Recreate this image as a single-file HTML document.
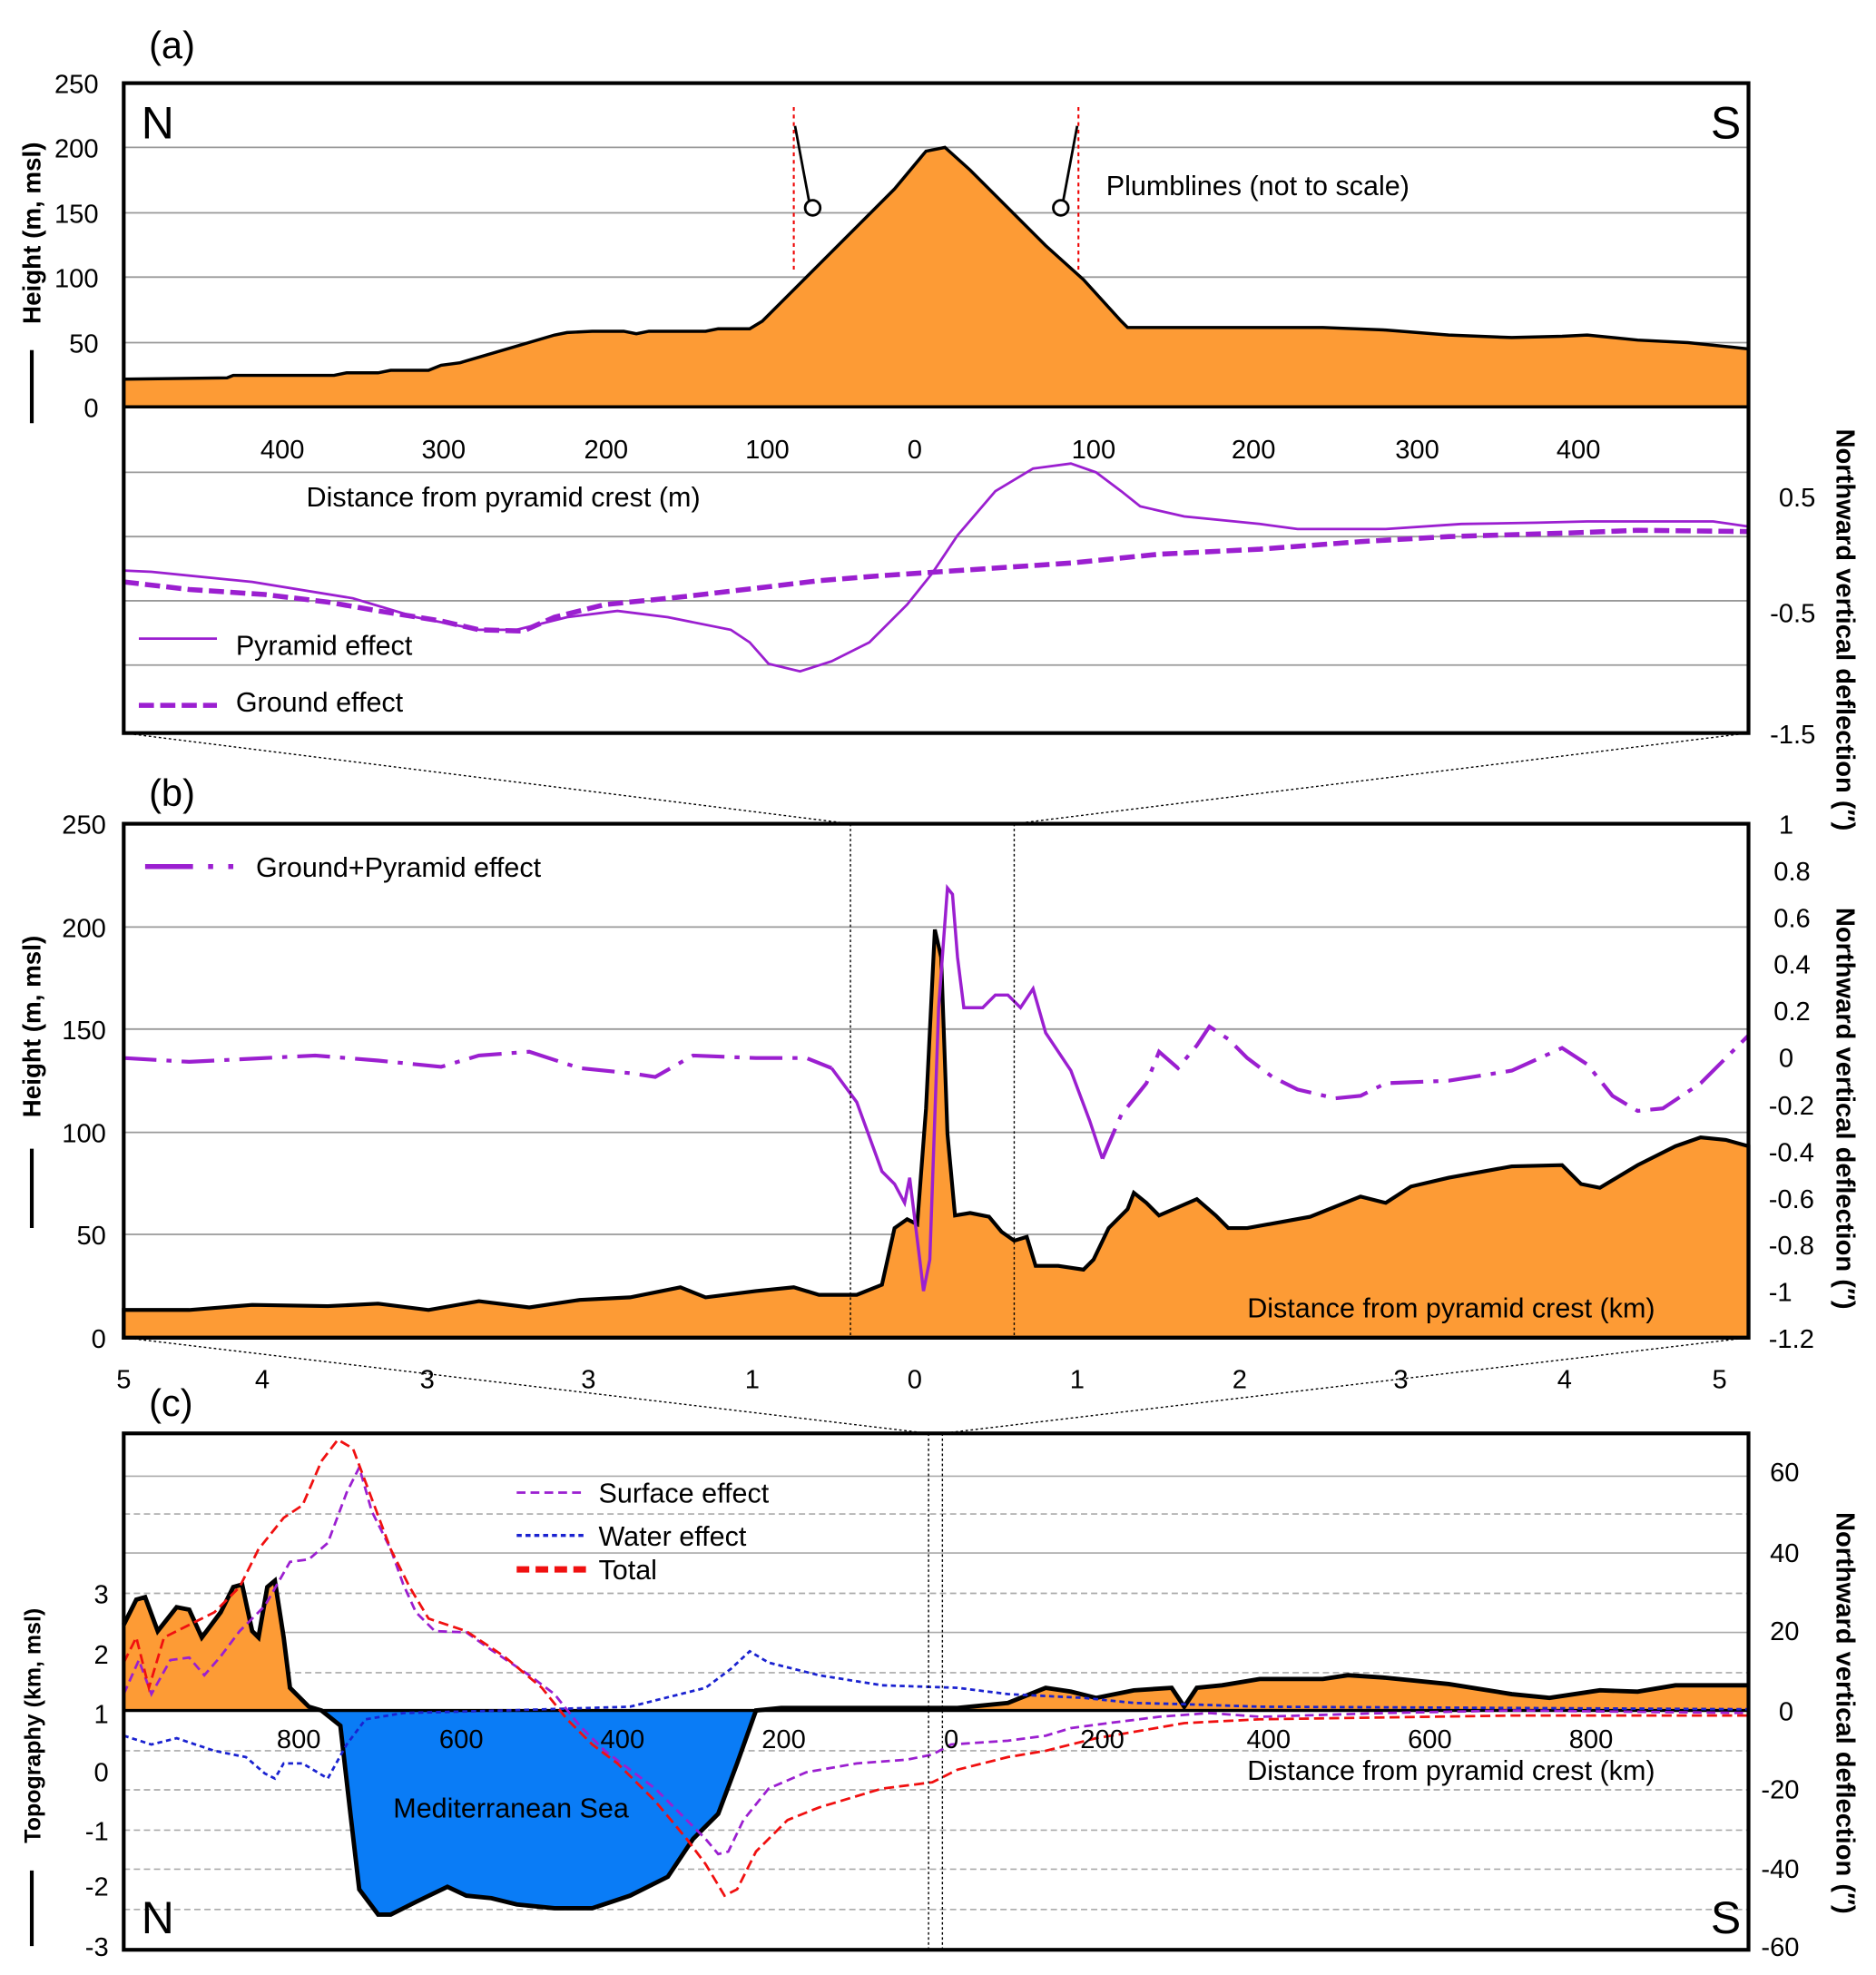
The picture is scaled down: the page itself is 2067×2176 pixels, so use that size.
<!DOCTYPE html>
<html><head><meta charset="utf-8"><style>
html,body{margin:0;padding:0;background:#fff}
svg{display:block}
text{font-family:"Liberation Sans",sans-serif;fill:#000}
</style></head><body>
<svg width="2067" height="2176" viewBox="0 0 1489 1568" xmlns="http://www.w3.org/2000/svg">
<rect width="1489" height="1568" fill="#fff"/>
<!-- ===== Panel A ===== -->
<g stroke="#999" stroke-width="1.3">
<line x1="98" x2="1388" y1="117" y2="117"/><line x1="98" x2="1388" y1="169" y2="169"/><line x1="98" x2="1388" y1="220" y2="220"/><line x1="98" x2="1388" y1="272" y2="272"/>
<line x1="98" x2="1388" y1="375" y2="375"/><line x1="98" x2="1388" y1="426" y2="426"/><line x1="98" x2="1388" y1="477" y2="477"/><line x1="98" x2="1388" y1="528" y2="528"/>
</g>
<polygon fill="#fd9b35" stroke="#000" stroke-width="2.5" points="98,301 180,300 185,298 265,298 275,296 300,296 310,294 340,294 350,290 365,288 440,266 450,264 470,263 495,263 505,265 515,263 560,263 570,261 595,261 605,255 620,240 650,210 680,180 710,150 735,120 750,117 770,135 800,165 830,195 860,222 890,255 895,260 1050,260 1100,262 1150,266 1200,268 1240,267 1260,266 1300,270 1340,272 1388,277 1388,323 98,323"/>
<line x1="98" x2="1388" y1="323" y2="323" stroke="#000" stroke-width="2"/>
<polyline fill="none" stroke="#9b1fd0" stroke-width="2" points="98,453 120,454 200,462 280,475 330,490 380,500 410,500 450,490 490,485 530,490 580,500 595,510 610,527 635,533 660,525 690,510 720,480 740,455 760,425 790,390 820,372 850,368 870,375 890,390 905,402 940,410 1000,416 1030,420 1100,420 1160,416 1220,415 1260,414 1300,414 1360,414 1388,418"/>
<polyline fill="none" stroke="#9b1fd0" stroke-width="4" stroke-dasharray="12 5" points="98,462 150,468 210,472 260,478 300,485 350,493 380,500 415,501 440,490 480,480 540,474 600,467 650,461 700,457 760,453 850,447 920,440 1000,436 1080,430 1150,426 1250,423 1300,421 1388,422"/>
<g stroke="#e00" stroke-width="1.5" stroke-dasharray="3 3"><line x1="630" x2="630" y1="85" y2="215"/><line x1="856" x2="856" y1="85" y2="215"/></g>
<g stroke="#000" stroke-width="2" fill="#fff"><line x1="631" y1="100" x2="642" y2="159"/><circle cx="645" cy="165" r="6"/><line x1="855" y1="100" x2="844" y2="159"/><circle cx="842" cy="165" r="6"/></g>
<rect x="98" y="66" width="1290" height="516" fill="none" stroke="#000" stroke-width="3"/>
<text x="112" y="110" font-size="36">N</text><text x="1358" y="110" font-size="36">S</text>
<text x="118" y="46" font-size="30">(a)</text>
<text x="878" y="155" font-size="22">Plumblines (not to scale)</text>
<text x="243" y="402" font-size="22">Distance from pyramid crest (m)</text>
<g font-size="21" text-anchor="middle"><text x="224" y="364">400</text><text x="352" y="364">300</text><text x="481" y="364">200</text><text x="609" y="364">100</text><text x="726" y="364">0</text><text x="868" y="364">100</text><text x="995" y="364">200</text><text x="1125" y="364">300</text><text x="1253" y="364">400</text></g>
<g font-size="21" text-anchor="end"><text x="78" y="74">250</text><text x="78" y="125">200</text><text x="78" y="177">150</text><text x="78" y="228">100</text><text x="78" y="280">50</text><text x="78" y="331">0</text></g>
<g font-size="21"><text x="1412" y="402">0.5</text><text x="1405" y="494">-0.5</text><text x="1405" y="590">-1.5</text></g>
<line x1="110" x2="172" y1="507" y2="507" stroke="#9b1fd0" stroke-width="2"/>
<line x1="110" x2="172" y1="560" y2="560" stroke="#9b1fd0" stroke-width="4" stroke-dasharray="12 5"/>
<text x="187" y="520" font-size="22">Pyramid effect</text><text x="187" y="565" font-size="22">Ground effect</text>
<text transform="translate(32,185) rotate(-90)" font-size="20" font-weight="bold" text-anchor="middle">Height (m, msl)</text>
<line x1="25" x2="25" y1="278" y2="336" stroke="#000" stroke-width="3"/>
<text transform="translate(1458,500) rotate(90)" font-size="21" font-weight="bold" text-anchor="middle">Northward vertical deflection  (″)</text>
<!-- connectors -->
<g stroke="#000" stroke-width="1" stroke-dasharray="2 2"><line x1="98" y1="582" x2="675" y2="654"/><line x1="1388" y1="582" x2="805" y2="654"/><line x1="98" y1="1062" x2="737" y2="1138"/><line x1="1388" y1="1062" x2="748" y2="1138"/></g>
<!-- ===== Panel B ===== -->
<g stroke="#999" stroke-width="1.3"><line x1="98" x2="1388" y1="736" y2="736"/><line x1="98" x2="1388" y1="817" y2="817"/><line x1="98" x2="1388" y1="899" y2="899"/><line x1="98" x2="1388" y1="980" y2="980"/></g>
<polygon fill="#fd9b35" stroke="#000" stroke-width="3" points="98,1040 150,1040 200,1036 260,1037 300,1035 340,1040 380,1033 420,1038 460,1032 500,1030 540,1022 560,1030 600,1025 630,1022 650,1028 680,1028 700,1020 710,975 720,968 728,972 735,880 742,738 747,760 752,900 758,965 770,963 785,966 795,978 805,985 815,982 822,1005 840,1005 860,1008 868,1000 880,975 895,960 900,947 910,955 920,965 950,952 965,965 975,975 990,975 1040,966 1080,950 1100,955 1120,942 1150,935 1200,926 1240,925 1255,940 1270,943 1300,925 1330,910 1350,903 1370,905 1388,910 1388,1062 98,1062"/>
<polyline fill="none" stroke="#9b1fd0" stroke-width="3" stroke-dasharray="26 8 4 8" points="98,840 150,843 250,838 300,842 350,847 380,838 420,835 460,848 500,852 520,855 550,838 600,840 640,840 660,848"/>
<polyline fill="none" stroke="#9b1fd0" stroke-width="2.5" points="660,848 680,875 700,930 710,940 718,955 722,935 730,1000 733,1025 738,1000 745,800 752,705 756,710 760,760 765,800 780,800 790,790 800,790 810,800 820,785 830,820 850,850 865,890 875,920"/>
<polyline fill="none" stroke="#9b1fd0" stroke-width="3" stroke-dasharray="26 8 4 8" points="875,920 890,885 910,860 920,835 935,848 950,830 960,815 975,825 990,840 1010,855 1030,865 1060,872 1080,870 1100,860 1150,858 1200,850 1240,832 1260,845 1280,870 1300,882 1320,880 1350,860 1388,822"/>
<g stroke="#000" stroke-width="1" stroke-dasharray="2 2"><line x1="675" x2="675" y1="654" y2="1062"/><line x1="805" x2="805" y1="654" y2="1062"/></g>
<rect x="98" y="654" width="1290" height="408" fill="none" stroke="#000" stroke-width="3"/>
<text x="118" y="640" font-size="30">(b)</text>
<line x1="115" x2="185" y1="688" y2="688" stroke="#9b1fd0" stroke-width="4" stroke-dasharray="38 12 4 12"/>
<text x="203" y="696" font-size="22">Ground+Pyramid effect</text>
<text x="990" y="1046" font-size="22">Distance from pyramid crest (km)</text>
<g font-size="21" text-anchor="end"><text x="84" y="662">250</text><text x="84" y="744">200</text><text x="84" y="825">150</text><text x="84" y="907">100</text><text x="84" y="988">50</text><text x="84" y="1070">0</text></g>
<g font-size="21"><text x="1412" y="662">1</text><text x="1408" y="699">0.8</text><text x="1408" y="736">0.6</text><text x="1408" y="773">0.4</text><text x="1408" y="810">0.2</text><text x="1412" y="847">0</text><text x="1404" y="885">-0.2</text><text x="1404" y="922">-0.4</text><text x="1404" y="959">-0.6</text><text x="1404" y="996">-0.8</text><text x="1404" y="1033">-1</text><text x="1404" y="1070">-1.2</text></g>
<g font-size="21" text-anchor="middle"><text x="98" y="1102">5</text><text x="208" y="1102">4</text><text x="339" y="1102">3</text><text x="467" y="1102">3</text><text x="597" y="1102">1</text><text x="726" y="1102">0</text><text x="855" y="1102">1</text><text x="984" y="1102">2</text><text x="1112" y="1102">3</text><text x="1242" y="1102">4</text><text x="1365" y="1102">5</text></g>
<text transform="translate(32,815) rotate(-90)" font-size="20" font-weight="bold" text-anchor="middle">Height (m, msl)</text>
<line x1="25" x2="25" y1="912" y2="975" stroke="#000" stroke-width="3"/>
<text transform="translate(1458,880) rotate(90)" font-size="21" font-weight="bold" text-anchor="middle">Northward vertical deflection  (″)</text>
<!-- ===== Panel C ===== -->
<g stroke="#aaa" stroke-width="1.2"><line x1="98" x2="1388" y1="1172" y2="1172"/><line x1="98" x2="1388" y1="1233" y2="1233"/><line x1="98" x2="1388" y1="1296" y2="1296"/></g>
<g stroke="#aaa" stroke-width="1.2" stroke-dasharray="5 3"><line x1="98" x2="1388" y1="1202" y2="1202"/><line x1="98" x2="1388" y1="1265" y2="1265"/><line x1="98" x2="1388" y1="1328" y2="1328"/><line x1="98" x2="1388" y1="1390" y2="1390"/><line x1="98" x2="1388" y1="1421" y2="1421"/><line x1="98" x2="1388" y1="1453" y2="1453"/><line x1="98" x2="1388" y1="1484" y2="1484"/><line x1="98" x2="1388" y1="1516" y2="1516"/></g>
<polygon fill="#fd9b35" points="98,1290 108,1270 115,1268 125,1295 140,1276 150,1278 160,1300 175,1280 185,1260 192,1258 200,1295 205,1300 212,1260 218,1255 225,1300 230,1340 245,1355 255,1358 98,1358"/>
<polygon fill="#0a7cf6" points="255,1358 270,1370 278,1440 285,1500 300,1520 310,1520 330,1510 355,1498 370,1505 390,1507 410,1512 440,1515 470,1515 500,1505 530,1490 550,1460 570,1440 585,1400 600,1358"/>
<polygon fill="#fd9b35" points="600,1358 620,1356 700,1356 760,1356 800,1352 830,1340 850,1343 870,1348 900,1342 930,1340 940,1355 950,1340 970,1338 1000,1333 1050,1333 1070,1330 1100,1332 1150,1337 1200,1345 1230,1348 1270,1342 1300,1343 1330,1338 1388,1338 1388,1358"/>
<polyline fill="none" stroke="#000" stroke-width="3.5" points="98,1290 108,1270 115,1268 125,1295 140,1276 150,1278 160,1300 175,1280 185,1260 192,1258 200,1295 205,1300 212,1260 218,1255 225,1300 230,1340 245,1355 255,1358 270,1370 278,1440 285,1500 300,1520 310,1520 330,1510 355,1498 370,1505 390,1507 410,1512 440,1515 470,1515 500,1505 530,1490 550,1460 570,1440 585,1400 600,1358 620,1356 700,1356 760,1356 800,1352 830,1340 850,1343 870,1348 900,1342 930,1340 940,1355 950,1340 970,1338 1000,1333 1050,1333 1070,1330 1100,1332 1150,1337 1200,1345 1230,1348 1270,1342 1300,1343 1330,1338 1388,1338"/>
<line x1="98" x2="1388" y1="1358" y2="1358" stroke="#000" stroke-width="2.5"/>
<polyline fill="none" stroke="#9b1fd0" stroke-width="2" stroke-dasharray="7 4" points="98,1345 110,1318 120,1345 135,1318 150,1316 162,1330 175,1315 190,1295 210,1275 230,1240 245,1238 260,1225 275,1185 285,1165 295,1200 310,1230 320,1258 330,1280 345,1295 370,1296 390,1310 420,1330 440,1345 460,1370 480,1390 500,1405 520,1420 540,1440 560,1460 570,1472 578,1470 590,1445 610,1420 640,1407 680,1400 720,1397 740,1393 755,1385 800,1382 830,1378 850,1372 880,1368 920,1363 960,1360 1000,1363 1100,1360 1200,1358 1388,1360"/>
<polyline fill="none" stroke="#1a22d0" stroke-width="2" stroke-dasharray="4 3" points="98,1378 120,1385 140,1380 170,1390 195,1395 210,1408 218,1412 225,1400 240,1400 260,1412 275,1385 290,1365 320,1360 400,1358 500,1355 540,1345 560,1340 580,1325 595,1311 610,1320 650,1330 700,1338 760,1340 800,1345 860,1348 900,1352 940,1353 1000,1355 1200,1356 1388,1357"/>
<polyline fill="none" stroke="#f01010" stroke-width="2" stroke-dasharray="8 4" points="98,1320 108,1300 118,1340 130,1300 150,1290 170,1280 190,1260 205,1230 225,1205 240,1195 255,1160 268,1143 280,1150 295,1190 310,1230 325,1260 340,1285 370,1295 400,1315 430,1340 450,1365 470,1385 490,1400 520,1430 545,1460 560,1480 575,1505 585,1500 600,1470 625,1445 650,1435 700,1420 740,1415 760,1405 800,1395 830,1390 870,1380 900,1375 940,1368 1000,1365 1200,1362 1388,1362"/>
<g stroke="#000" stroke-width="1" stroke-dasharray="2 2"><line x1="737" x2="737" y1="1138" y2="1548"/><line x1="748" x2="748" y1="1138" y2="1548"/></g>
<rect x="98" y="1138" width="1290" height="410" fill="none" stroke="#000" stroke-width="3"/>
<text x="118" y="1124" font-size="30">(c)</text>
<line x1="410" x2="465" y1="1185" y2="1185" stroke="#9b1fd0" stroke-width="2" stroke-dasharray="7 4"/>
<line x1="410" x2="465" y1="1219" y2="1219" stroke="#1a22d0" stroke-width="2.5" stroke-dasharray="4 3"/>
<line x1="410" x2="465" y1="1246" y2="1246" stroke="#f01010" stroke-width="5" stroke-dasharray="10 5"/>
<text x="475" y="1193" font-size="22">Surface effect</text><text x="475" y="1227" font-size="22">Water effect</text><text x="475" y="1254" font-size="22">Total</text>
<text x="312" y="1443" font-size="22">Mediterranean Sea</text>
<text x="990" y="1413" font-size="22">Distance from pyramid crest (km)</text>
<text x="112" y="1535" font-size="36">N</text><text x="1358" y="1535" font-size="36">S</text>
<g font-size="21" text-anchor="middle"><text x="237" y="1388">800</text><text x="366" y="1388">600</text><text x="494" y="1388">400</text><text x="622" y="1388">200</text><text x="755" y="1388">0</text><text x="875" y="1388">200</text><text x="1007" y="1388">400</text><text x="1135" y="1388">600</text><text x="1263" y="1388">800</text></g>
<g font-size="21" text-anchor="end"><text x="86" y="1273">3</text><text x="86" y="1321">2</text><text x="86" y="1368">1</text><text x="86" y="1414">0</text><text x="86" y="1461">-1</text><text x="86" y="1505">-2</text><text x="86" y="1553">-3</text></g>
<g font-size="21"><text x="1405" y="1176">60</text><text x="1405" y="1240">40</text><text x="1405" y="1302">20</text><text x="1412" y="1366">0</text><text x="1398" y="1428">-20</text><text x="1398" y="1491">-40</text><text x="1398" y="1553">-60</text></g>
<text transform="translate(32,1370) rotate(-90)" font-size="18" font-weight="bold" text-anchor="middle">Topography (km, msl)</text>
<line x1="25" x2="25" y1="1485" y2="1545" stroke="#000" stroke-width="3"/>
<text transform="translate(1458,1360) rotate(90)" font-size="21" font-weight="bold" text-anchor="middle">Northward vertical deflection  (″)</text>
</svg>
</body></html>
